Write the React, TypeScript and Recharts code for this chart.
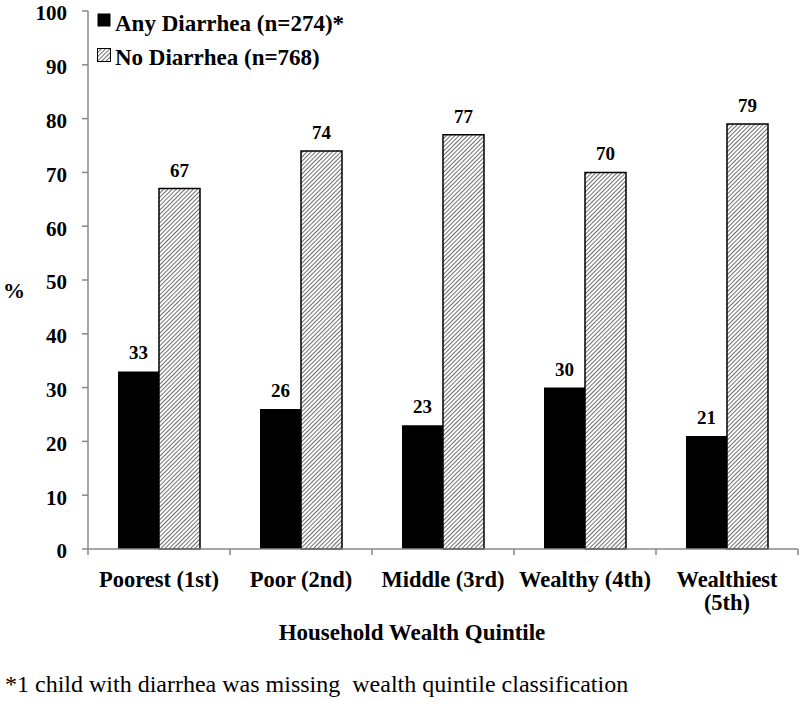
import React from 'react';
import { BarChart, Bar, XAxis, YAxis, Legend, LabelList } from 'recharts';

const categories = ['Poorest (1st)', 'Poor (2nd)', 'Middle (3rd)', 'Wealthy (4th)', 'Wealthiest (5th)'];
const anyDiarrhea = [33, 26, 23, 30, 21];
const noDiarrhea = [67, 74, 77, 70, 79];
const yTicks = [0, 10, 20, 30, 40, 50, 60, 70, 80, 90, 100];
const seriesNames = ['Any Diarrhea (n=274)*', 'No Diarrhea (n=768)'];
const xTitle = 'Household Wealth Quintile';
const yTitle = '%';
const footnote = '*1 child with diarrhea was missing  wealth quintile classification';

const data = categories.map((c, i) => ({ category: c, any: anyDiarrhea[i], none: noDiarrhea[i] }));

const FONT = '"Liberation Serif", "Times New Roman", serif';
const AXIS = '#888888';
const fills = ['#000000', 'url(#hatch)'];

const TICK_SIZE = 6;
const TICK_MARGIN = 16;
const TICK_FONT_SIZE = 22.5;
const TICK_WRAP = 140;

let measureCtx: CanvasRenderingContext2D | null = null;
function measureText(text: string, font: string): number {
  if (!measureCtx) {
    measureCtx = document.createElement('canvas').getContext('2d');
  }
  if (!measureCtx) return text.length * 10;
  measureCtx.font = font;
  return measureCtx.measureText(text).width;
}
function wrapWords(text: string, maxWidth: number, font: string): string[] {
  const words = text.split(' ');
  const lines: string[] = [];
  let cur = '';
  for (const w of words) {
    const t = cur ? cur + ' ' + w : w;
    if (cur && measureText(t, font) > maxWidth) {
      lines.push(cur);
      cur = w;
    } else {
      cur = t;
    }
  }
  if (cur) lines.push(cur);
  return lines;
}

const CategoryTick = (props: any) => {
  const { x, y, payload, index, visibleTicksCount } = props;
  const axisY = y - TICK_SIZE - TICK_MARGIN;
  const half = payload && payload.offset ? payload.offset : 71;
  const lines = wrapWords(String(payload.value), TICK_WRAP, `bold ${TICK_FONT_SIZE}px "Liberation Serif"`);
  return (
    <g>
      <line x1={x - half} x2={x - half} y1={axisY} y2={axisY + TICK_SIZE} stroke={AXIS} strokeWidth={1.5} />
      {index === visibleTicksCount - 1 && (
        <line x1={x + half} x2={x + half} y1={axisY} y2={axisY + TICK_SIZE} stroke={AXIS} strokeWidth={1.5} />
      )}
      <text
        x={x}
        y={y}
        textAnchor="middle"
        fill="#000"
        style={{ fontSize: TICK_FONT_SIZE, fontWeight: 'bold', fontFamily: FONT }}
      >
        {lines.map((l, i) => (
          <tspan key={i} x={x} dy={i === 0 ? '0.71em' : '1.02em'}>
            {l}
          </tspan>
        ))}
      </text>
    </g>
  );
};

const LegendContent = (props: any) => {
  const payload = props.payload || [];
  return (
    <svg width={290} height={72} style={{ display: 'block', overflow: 'visible' }}>
      {payload.map((entry: any, i: number) => (
        <g key={String(entry.value)}>
          <rect
            x={0.5}
            y={3.5 + i * 35}
            width={13}
            height={13}
            fill={fills[i]}
            stroke="#000"
            strokeWidth={i === 0 ? 0 : 1}
          />
          <text x={18} y={21 + i * 34} fill="#000" style={{ fontSize: 23, fontWeight: 'bold', fontFamily: FONT }}>
            {entry.value}
          </text>
        </g>
      ))}
    </svg>
  );
};

export default function App() {
  return (
    <div style={{ position: 'absolute', left: 0, top: 0, width: 800, height: 702, background: '#fff' }}>
      <BarChart
        width={800}
        height={702}
        data={data}
        margin={{ top: 11, right: 2, bottom: 93, left: 0 }}
        barGap={0}
        barSize={41}
      >
        <defs>
          <pattern id="hatch" width="3" height="3" patternUnits="userSpaceOnUse" patternTransform="rotate(45)">
            <rect width="3" height="3" fill="#ffffff" />
            <line x1="0" y1="0" x2="0" y2="3" stroke="#4a4a4a" strokeWidth="1.6" />
          </pattern>
        </defs>
        <XAxis
          dataKey="category"
          height={60}
          interval={0}
          tickLine={false}
          tickSize={TICK_SIZE}
          tickMargin={TICK_MARGIN}
          axisLine={{ stroke: AXIS, strokeWidth: 1.5 }}
          tick={<CategoryTick />}
          label={{
            value: xTitle,
            position: 'insideBottom',
            offset: -31,
            dx: -31,
            fill: '#000',
            fontSize: 23,
            fontWeight: 'bold',
            fontFamily: FONT,
          }}
        />
        <YAxis
          width={88}
          domain={[0, 100]}
          ticks={yTicks}
          interval={0}
          tickSize={6}
          tickMargin={15}
          axisLine={{ stroke: AXIS, strokeWidth: 1.5 }}
          tickLine={{ stroke: AXIS, strokeWidth: 1.5 }}
          tick={{ fill: '#000', fontSize: 21, fontWeight: 'bold', fontFamily: FONT, dy: 2 }}
          label={{
            value: yTitle,
            position: 'insideLeft',
            offset: 3,
            dy: 10,
            fill: '#000',
            fontSize: 22,
            fontWeight: 'bold',
            fontFamily: FONT,
          }}
        />
        <Legend
          layout="vertical"
          align="center"
          verticalAlign="middle"
          wrapperStyle={{ left: 97, top: 10, width: 'auto' }}
          content={<LegendContent />}
        />
        <Bar dataKey="any" name={seriesNames[0]} fill={fills[0]} isAnimationActive={false}>
          <LabelList
            dataKey="any"
            position="top"
            offset={12}
            fill="#000"
            style={{ fontSize: 19, fontWeight: 'bold', fontFamily: FONT }}
          />
        </Bar>
        <Bar
          dataKey="none"
          name={seriesNames[1]}
          fill={fills[1]}
          stroke="#000"
          strokeWidth={1.5}
          isAnimationActive={false}
        >
          <LabelList
            dataKey="none"
            position="top"
            offset={12}
            fill="#000"
            stroke="none"
            style={{ fontSize: 19, fontWeight: 'bold', fontFamily: FONT }}
          />
        </Bar>
      </BarChart>
      <svg
        width={800}
        height={702}
        style={{ position: 'absolute', left: 0, top: 0, pointerEvents: 'none' }}
      >
        <text x={5} y={692} fill="#000" style={{ fontSize: 24, fontFamily: FONT, whiteSpace: 'pre' }}>
          {footnote}
        </text>
      </svg>
    </div>
  );
}
